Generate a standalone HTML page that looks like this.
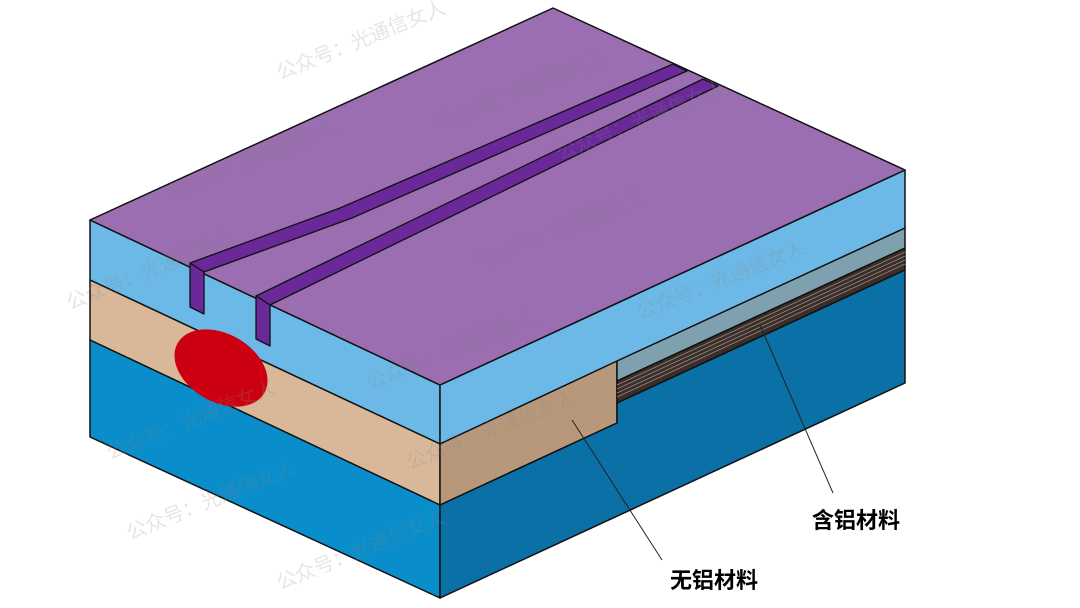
<!DOCTYPE html>
<html><head><meta charset="utf-8"><style>
html,body{margin:0;padding:0;background:#fff;width:1080px;height:608px;overflow:hidden}
</style></head><body>
<svg width="1080" height="608" viewBox="0 0 1080 608" xmlns="http://www.w3.org/2000/svg" font-family="Liberation Sans, Noto Sans CJK SC, sans-serif">
<g stroke="#111" stroke-width="1.5" stroke-linejoin="round">
<polygon points="90,220 440,385 440,444 90,280" fill="#6CB9E8"/>
<polygon points="90,280 440,444 440,505 90,340" fill="#D8B898"/>
<polygon points="90,340 440,505 440,598 90,437" fill="#0A8DCB"/>
<polygon points="440,385 905,170 905,228 440,444" fill="#6CB9E8"/>
<polygon points="440,444 617,361 617,423 440,505" fill="#B8987A"/>
<polygon points="617,361 905,228 905,248 617,381" fill="#7FA1AF"/>
<polygon points="617,381 905,248 905,270 617,403" fill="#3a2e2a"/>
<polygon points="440,505 617,423 617,403 905,270 905,383 440,598" fill="#0A70A5"/>
<polygon points="90,220 553,8 905,170 440,385" fill="#9A6EB0"/>
</g>
<g stroke="#9a8a80" stroke-width="0.8">
<line x1="617" y1="385" x2="905" y2="252"/>
<line x1="617" y1="389" x2="905" y2="256"/>
<line x1="617" y1="393" x2="905" y2="260"/>
<line x1="617" y1="397" x2="905" y2="264"/>
</g>
<g fill="#6A2898" stroke="#111" stroke-width="1.3" stroke-linejoin="round">
<polygon points="190,263 340,208 673,64 687,71 352,218 204,272"/>
<polygon points="190,263 204,272 204,314 190,307"/>
<polygon points="256,296 703,79 718,86 270,305"/>
<polygon points="256,296 270,305 270,346 256,339"/>
</g>
<ellipse cx="221" cy="368" rx="50" ry="34" transform="rotate(30 221 368)" fill="#CC0010"/>
<g fill="#888" opacity="0.22" font-size="20">
<text x="280" y="80" transform="rotate(-22 280 80)">公众号：光通信女人</text>
<text x="440" y="130" transform="rotate(-22 440 130)">公众号：光通信女人</text>
<text x="170" y="200" transform="rotate(-22 170 200)">公众号：光通信女人</text>
<text x="480" y="270" transform="rotate(-22 480 270)">公众号：光通信女人</text>
<text x="70" y="310" transform="rotate(-22 70 310)">公众号：光通信女人</text>
<text x="640" y="320" transform="rotate(-22 640 320)">公众号：光通信女人</text>
<text x="370" y="390" transform="rotate(-22 370 390)">公众号：光通信女人</text>
<text x="110" y="460" transform="rotate(-22 110 460)">公众号：光通信女人</text>
<text x="410" y="470" transform="rotate(-22 410 470)">公众号：光通信女人</text>
<text x="130" y="540" transform="rotate(-22 130 540)">公众号：光通信女人</text>
<text x="280" y="590" transform="rotate(-22 280 590)">公众号：光通信女人</text>
<text x="560" y="160" transform="rotate(-22 560 160)">公众号：光通信女人</text>
</g>
<g stroke="#222" stroke-width="1">
<line x1="572" y1="420" x2="662" y2="560"/>
<line x1="760" y1="325" x2="833" y2="493"/>
</g>
<g font-size="22" font-weight="bold" fill="#000">
<text x="670" y="588">无铝材料</text>
<text x="812" y="528">含铝材料</text>
</g>
</svg>
</body></html>
